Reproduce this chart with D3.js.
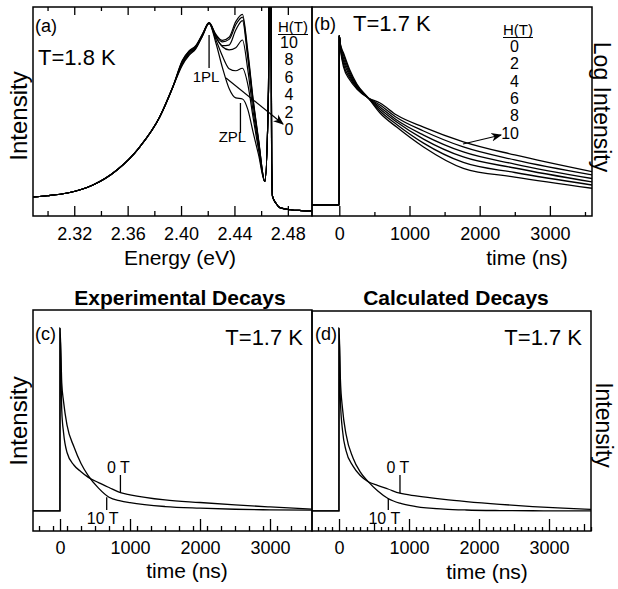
<!DOCTYPE html>
<html>
<head>
<meta charset="utf-8">
<title>Magneto-PL spectra and decays</title>
<script src="https://cdn.jsdelivr.net/npm/d3@7"></script>
<style>
  body { margin: 0; background: #fff; }
  svg text { font-family: "Liberation Sans", Arial, Helvetica, sans-serif; fill: #000; }
</style>
</head>
<body>
<svg id="fig" width="618" height="589"></svg>
<script>
// ---- data ----
var fields = [10, 8, 6, 4, 2, 0];            // H (T)

// (a) PL spectra, energy in eV, intensity normalised
var energy = [2.2891, 2.300, 2.315, 2.334, 2.352, 2.369, 2.384, 2.394,
              2.401, 2.406, 2.411, 2.416, 2.421,
              2.426, 2.431, 2.436, 2.441, 2.446, 2.450, 2.454, 2.458,
              2.4628, 2.4655, 2.4662, 2.4672, 2.4679, 2.4685, 2.471, 2.474, 2.482, 2.490, 2.498];
var specH10 = [0.091, 0.097, 0.110, 0.148, 0.220, 0.330, 0.474, 0.620,
               0.745, 0.790, 0.815, 0.870, 0.925,
               0.870, 0.840, 0.855, 0.930, 0.965, 0.790, 0.560, 0.370,
               0.165, 0.60, 1.30, 1.30, 0.25, 0.095, 0.062, 0.040, 0.030, 0.026, 0.024];
var specH8  = [0.091, 0.097, 0.110, 0.148, 0.220, 0.330, 0.474, 0.620,
               0.742, 0.787, 0.812, 0.868, 0.925,
               0.866, 0.833, 0.845, 0.915, 0.952, 0.775, 0.552, 0.365,
               0.165, 0.60, 1.30, 1.30, 0.25, 0.095, 0.062, 0.040, 0.030, 0.026, 0.024];
var specH6  = [0.091, 0.097, 0.110, 0.148, 0.220, 0.330, 0.474, 0.620,
               0.738, 0.783, 0.809, 0.866, 0.924,
               0.860, 0.815, 0.818, 0.890, 0.935, 0.755, 0.540, 0.358,
               0.165, 0.60, 1.30, 1.30, 0.25, 0.095, 0.062, 0.040, 0.030, 0.026, 0.024];
var specH4  = [0.091, 0.097, 0.110, 0.148, 0.220, 0.330, 0.474, 0.620,
               0.732, 0.778, 0.806, 0.864, 0.923,
               0.855, 0.810, 0.795, 0.805, 0.842, 0.700, 0.500, 0.340,
               0.165, 0.60, 1.30, 1.30, 0.25, 0.095, 0.062, 0.040, 0.030, 0.026, 0.024];
var specH2  = [0.091, 0.097, 0.110, 0.148, 0.220, 0.330, 0.474, 0.620,
               0.727, 0.773, 0.803, 0.862, 0.922,
               0.845, 0.765, 0.705, 0.695, 0.707, 0.630, 0.470, 0.320,
               0.165, 0.60, 1.30, 1.30, 0.25, 0.095, 0.062, 0.040, 0.030, 0.026, 0.024];
var specH0  = [0.091, 0.097, 0.110, 0.148, 0.220, 0.330, 0.474, 0.620,
               0.722, 0.768, 0.800, 0.860, 0.921,
               0.830, 0.710, 0.610, 0.565, 0.560, 0.510, 0.400, 0.295,
               0.165, 0.60, 1.30, 1.30, 0.25, 0.095, 0.062, 0.040, 0.030, 0.026, 0.024];
var energyLabels = [2.32, 2.36, 2.40, 2.44, 2.48];
var energyMinor = [2.30, 2.34, 2.38, 2.42, 2.46];
var peakMarks = [{name: "1PL", e: 2.421}, {name: "ZPL", e: 2.4445}];

// (b) decays on log scale, counts (a.u.)
var decayTime = [-389, -1, 0, 15, 60, 150, 250, 413, 580, 817, 1200, 1767, 2500, 3600];
var logH0  = [1.4, 1.4, 393, 263, 140, 90.5, 67.0, 49.7, 42.0, 28.1, 18.8, 11.5, 7.41, 4.24];
var logH2  = [1.4, 1.4, 393, 270, 154, 96.8, 69.3, 49.7, 39.3, 25.9, 16.5, 9.68, 6.27, 3.80];
var logH4  = [1.4, 1.4, 393, 278, 171, 103, 71.6, 49.7, 36.7, 23.8, 14.4, 8.19, 5.48, 3.38];
var logH6  = [1.4, 1.4, 393, 285, 188, 110, 74.1, 49.7, 34.4, 22.3, 12.6, 6.93, 4.80, 3.01];
var logH8  = [1.4, 1.4, 393, 293, 208, 118, 76.6, 49.7, 32.2, 20.5, 11.0, 5.77, 4.13, 2.72];
var logH10 = [1.4, 1.4, 393, 301, 223, 126, 79.2, 49.7, 30.1, 18.8, 9.68, 4.75, 3.55, 2.44];
var timeLabels = [0, 1000, 2000, 3000];

// (c) experimental decays, linear
var expTime = [-386, -1, 0, 25, 50, 100, 200, 300, 400, 550, 700, 863, 1000, 1500, 2000, 2500, 3000, 3600];
var exp0T  = [0, 0, 1.0, 0.55, 0.43, 0.32, 0.25, 0.215, 0.185, 0.155, 0.128, 0.100, 0.088, 0.060, 0.046, 0.033, 0.022, 0.010];
var exp10T = [0, 0, 1.0, 0.70, 0.60, 0.47, 0.35, 0.26, 0.195, 0.125, 0.075, 0.055, 0.045, 0.024, 0.015, 0.009, 0.006, 0.004];

// (d) calculated decays, linear
var calcTime = [-386, -1, 0, 20, 50, 100, 200, 300, 417, 550, 700, 869, 1100, 1500, 1819, 2300, 2766, 3200, 3600];
var calc0T  = [0, 0, 1.0, 0.60, 0.44, 0.33, 0.245, 0.195, 0.16, 0.14, 0.12, 0.097, 0.082, 0.063, 0.051, 0.036, 0.024, 0.015, 0.008];
var calc10T = [0, 0, 1.0, 0.72, 0.56, 0.42, 0.29, 0.215, 0.16, 0.11, 0.068, 0.042, 0.024, 0.010, 0.005, 0.002, 0.001, 0, 0];

// ---- drawing ----
var svg = d3.select("#fig");
svg.append("rect").attr("width", 618).attr("height", 589).attr("fill", "#fff");

var panels = {
  a: {x0: 33, x1: 312, y0: 7, y1: 216},
  b: {x0: 312, x1: 592, y0: 7, y1: 216},
  c: {x0: 33, x1: 312, y0: 310, y1: 531},
  d: {x0: 312, x1: 591, y0: 311, y1: 531}
};

function zip(xs, ys) { return xs.map(function (x, i) { return [x, ys[i]]; }); }

function clipFor(id, p) {
  svg.append("clipPath").attr("id", id).append("rect")
    .attr("x", p.x0).attr("y", p.y0).attr("width", p.x1 - p.x0).attr("height", p.y1 - p.y0);
}

function ticks(axisFn, scale, y, values, len, fmt, pad) {
  var ax = axisFn(scale).tickValues(values).tickSize(-len).tickPadding(pad || 3)
    .tickFormat(fmt || "");
  var g = svg.append("g").attr("transform", "translate(0," + y + ")").call(ax);
  g.select(".domain").remove();
  g.attr("font-family", null).attr("font-size", null);
  g.selectAll("line").attr("stroke", "#000").attr("stroke-width", 1.3);
  g.selectAll("text").attr("font-size", 18).attr("fill", "#000");
  return g;
}

function text(x, y, s, size, anchor) {
  return svg.append("text").attr("x", x).attr("y", y).attr("font-size", size)
    .attr("text-anchor", anchor || "start").text(s);
}

function vtext(x, y, s, size, angle) {
  return svg.append("text").attr("transform", "translate(" + x + "," + y + ") rotate(" + angle + ")")
    .attr("text-anchor", "middle").attr("font-size", size).text(s);
}

svg.append("defs").append("marker").attr("id", "arrow")
  .attr("viewBox", "0 0 10 10").attr("refX", 9).attr("refY", 5)
  .attr("markerWidth", 9).attr("markerHeight", 9).attr("orient", "auto")
  .append("path").attr("d", "M0,1 L10,5 L0,9 L3,5 Z").attr("fill", "#000");

// ===== (a) =====
var pa = panels.a;
var xa = d3.scaleLinear().domain([2.2891, 2.4981]).range([pa.x0, pa.x1]);
var ya = d3.scaleLinear().domain([0, 1]).range([pa.y1, pa.y0]);
clipFor("clipA", pa);
var lineA = d3.line().x(function (d) { return xa(d[0]); }).y(function (d) { return ya(d[1]); })
  .curve(d3.curveMonotoneX);
var specs = [specH10, specH8, specH6, specH4, specH2, specH0];
svg.append("g").attr("clip-path", "url(#clipA)").selectAll("path").data(specs).enter()
  .append("path").attr("d", function (s) { return lineA(zip(energy, s)); })
  .attr("fill", "none").attr("stroke", "#000").attr("stroke-width", 1.2);

ticks(d3.axisBottom, xa, pa.y1, energyLabels, 10, d3.format(".2f"), 11);
ticks(d3.axisBottom, xa, pa.y1, energyMinor, 5);
ticks(d3.axisTop, xa, pa.y0, energyLabels, 8);
ticks(d3.axisTop, xa, pa.y0, energyMinor, 4);

text(35, 32, "(a)", 18);
text(38, 65, "T=1.8 K", 22);
vtext(27, 116, "Intensity", 24, -90);
text(180, 265, "Energy (eV)", 21, "middle");

// peak markers
peakMarks.forEach(function (m, i) {
  var x = xa(m.e);
  var ys = i === 0 ? [35, 68] : [103, 133];
  svg.append("line").attr("x1", x).attr("x2", x).attr("y1", ys[0]).attr("y2", ys[1])
    .attr("stroke", "#000").attr("stroke-width", 1.3);
  text(i === 0 ? x - 3 : x - 8, i === 0 ? 82 : 142, m.name, 15, "middle");
});

// H legend (a)
text(293, 32, "H(T)", 15, "middle");
svg.append("line").attr("x1", 278).attr("x2", 308).attr("y1", 34.5).attr("y2", 34.5)
  .attr("stroke", "#000").attr("stroke-width", 1);
fields.forEach(function (h, i) {
  text(289, 48 + i * 17.4, String(h), 16, "middle");
});
svg.append("line").attr("x1", 226).attr("y1", 78).attr("x2", 283).attr("y2", 124)
  .attr("stroke", "#000").attr("stroke-width", 1.2).attr("marker-end", "url(#arrow)");

// ===== (b) =====
var pb = panels.b;
var xb = d3.scaleLinear().domain([-389, 3600]).range([pb.x0, pb.x1]);
var yb = d3.scaleLog().domain([1, 1000]).range([215, 8]);
clipFor("clipB", pb);
var lineB = d3.line().x(function (d) { return xb(d[0]); }).y(function (d) { return yb(d[1]); })
  .curve(d3.curveMonotoneX);
var decays = [logH0, logH2, logH4, logH6, logH8, logH10];
svg.append("g").attr("clip-path", "url(#clipB)").selectAll("path").data(decays).enter()
  .append("path").attr("d", function (s) { return lineB(zip(decayTime, s)); })
  .attr("fill", "none").attr("stroke", "#000").attr("stroke-width", 1.3);

ticks(d3.axisBottom, xb, pb.y1, timeLabels, 10, d3.format("d"), 11);
ticks(d3.axisBottom, xb, pb.y1, [500, 1500, 2500, 3500], 4);

text(314, 30, "(b)", 18);
text(353, 31, "T=1.7 K", 22);
vtext(594, 107, "Log Intensity", 23, 90);
text(527, 265, "time (ns)", 21, "middle");

text(518, 35, "H(T)", 15, "middle");
svg.append("line").attr("x1", 503).attr("x2", 533).attr("y1", 37.5).attr("y2", 37.5)
  .attr("stroke", "#000").attr("stroke-width", 1);
fields.slice().reverse().forEach(function (h, i) {
  text(519, 52 + i * 17.3, String(h), 16, "end");
});
svg.append("line").attr("x1", 463).attr("y1", 144).attr("x2", 501).attr("y2", 135)
  .attr("stroke", "#000").attr("stroke-width", 1.2).attr("marker-end", "url(#arrow)");

// ===== (c) and (d) =====
function decayPanel(p, id, times, s0, s10, minorStep, labels) {
  var x = d3.scaleLinear().domain([-386, 3600]).range([p.x0, p.x1]);
  var y = d3.scaleLinear().domain([-0.11, 1.1]).range([531, 310]);
  clipFor(id, p);
  var line = d3.line().x(function (d) { return x(d[0]); }).y(function (d) { return y(d[1]); })
    .curve(d3.curveMonotoneX);
  svg.append("g").attr("clip-path", "url(#" + id + ")").selectAll("path").data([s0, s10]).enter()
    .append("path").attr("d", function (s) { return line(zip(times, s)); })
    .attr("fill", "none").attr("stroke", "#000").attr("stroke-width", 1.3);
  ticks(d3.axisBottom, x, p.y1, timeLabels, 12, d3.format("d"), 10);
  var minors = d3.range(-300, 3601, minorStep).filter(function (t) { return t % 1000 !== 0; });
  if (minorStep === 100) {
    ticks(d3.axisBottom, x, p.y1, minors.filter(function (t) { return t % 500 === 0; }), 7);
    ticks(d3.axisBottom, x, p.y1, minors.filter(function (t) { return t % 500 !== 0; }), 4);
  } else {
    ticks(d3.axisBottom, x, p.y1, minors, 5);
  }
  // field labels
  var x0 = x(labels.t0), x10 = x(labels.t10);
  svg.append("line").attr("x1", x0).attr("x2", x0).attr("y1", 475).attr("y2", y(labels.v0))
    .attr("stroke", "#000").attr("stroke-width", 1.3);
  svg.append("line").attr("x1", x10).attr("x2", x10).attr("y1", y(labels.v10)).attr("y2", 510)
    .attr("stroke", "#000").attr("stroke-width", 1.3);
  text(x0 - 2, 473, "0 T", 16, "middle");
  text(x10 - 4, 524, "10 T", 16, "middle");
  return x;
}

decayPanel(panels.c, "clipC", expTime, exp0T, exp10T, 200, {t0: 863, v0: 0.100, t10: 667, v10: 0.075});
decayPanel(panels.d, "clipD", calcTime, calc0T, calc10T, 100, {t0: 871, v0: 0.097, t10: 704, v10: 0.068});

text(180, 305, "Experimental Decays", 21, "middle").attr("font-weight", "bold");
text(456, 305, "Calculated Decays", 21, "middle").attr("font-weight", "bold");
text(35, 340, "(c)", 18);
text(315, 340, "(d)", 18);
text(303, 345, "T=1.7 K", 22, "end");
text(582, 345, "T=1.7 K", 22, "end");
vtext(27, 421, "Intensity", 24, -90);
vtext(596, 425, "Intensity", 23, 90);
text(187, 578, "time (ns)", 21, "middle");
text(487, 579, "time (ns)", 21, "middle");

// frames last so they sit on top
Object.keys(panels).forEach(function (k) {
  var p = panels[k];
  svg.append("rect").attr("x", p.x0).attr("y", p.y0).attr("width", p.x1 - p.x0)
    .attr("height", p.y1 - p.y0).attr("fill", "none").attr("stroke", "#000").attr("stroke-width", 1.5);
});
</script>
</body>
</html>
